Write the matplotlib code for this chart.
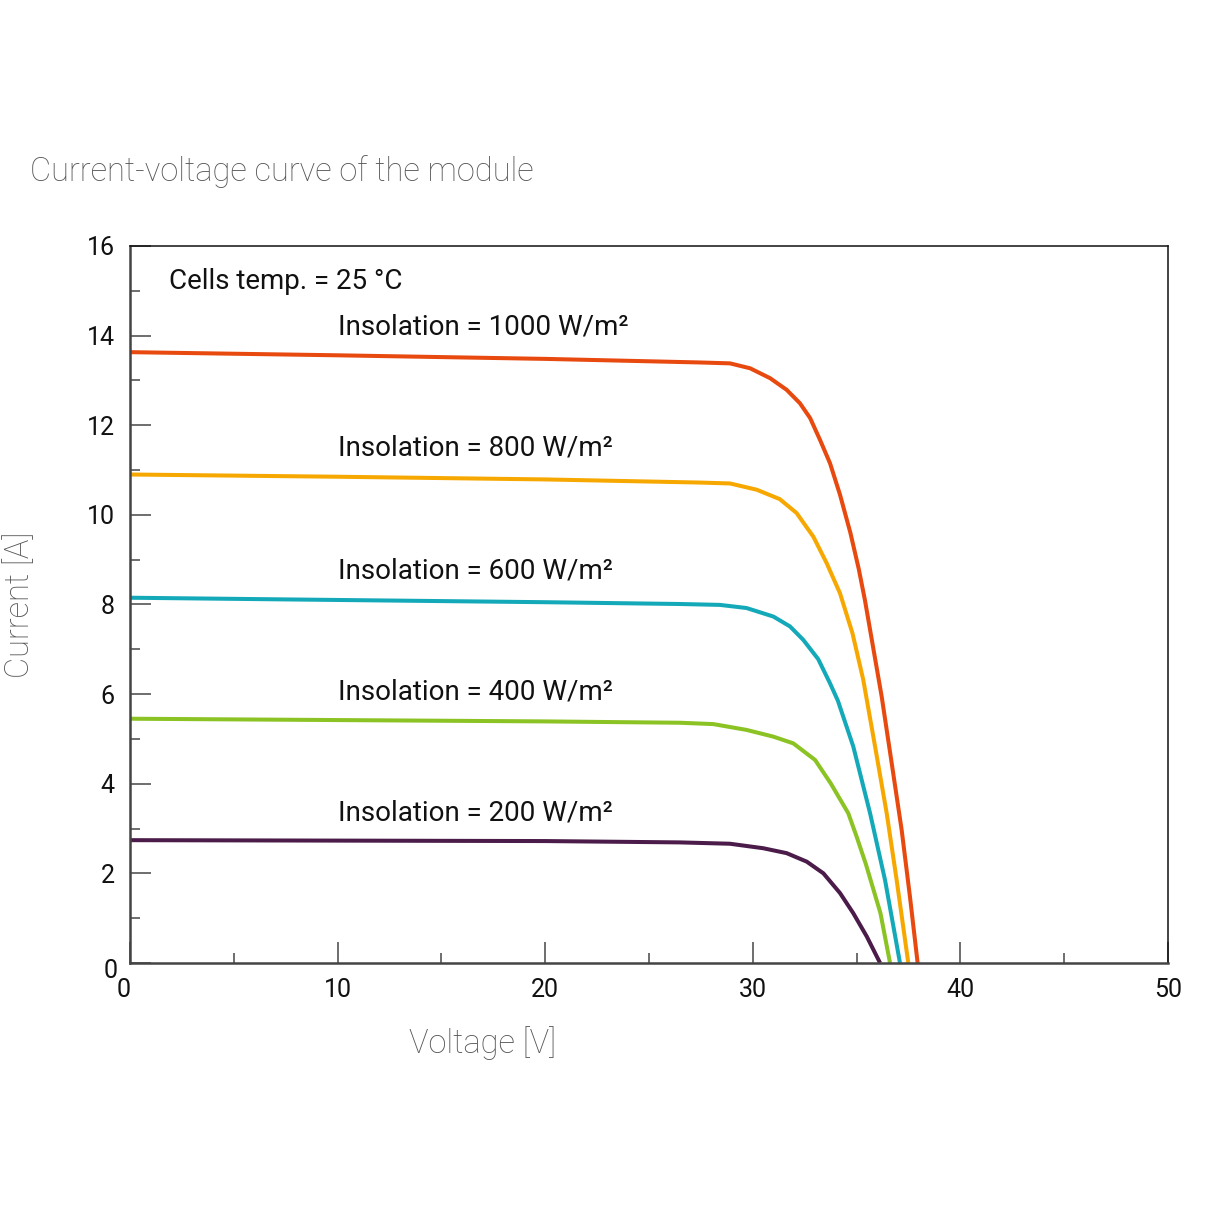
import matplotlib
matplotlib.use("Agg")
import matplotlib.pyplot as plt
from matplotlib.ticker import MultipleLocator, FuncFormatter

# I-V curves (voltage [V], current [A])
v_1000 = [0, 10, 20, 27.46, 28.9, 29.87, 30.83, 31.63, 32.27, 32.76, 33.24, 33.72, 34.2,
          34.7, 35.1, 35.4, 35.7, 36.21, 36.69, 37.17, 37.57, 37.94]
i_1000 = [13.63, 13.56, 13.48, 13.4, 13.38, 13.27, 13.05, 12.79, 12.49, 12.16, 11.67, 11.15, 10.45,
          9.6, 8.8, 8.1, 7.3, 5.94, 4.46, 2.97, 1.48, 0.0]

v_800 = [0, 10, 20, 27.46, 28.9, 30.19, 31.3, 32.11, 32.92, 33.56, 34.2, 34.8, 35.32, 35.89,
         36.45, 36.93, 37.49]
i_800 = [10.9, 10.85, 10.79, 10.72, 10.7, 10.56, 10.35, 10.04, 9.51, 8.92, 8.25, 7.36, 6.32, 4.83,
         3.34, 1.85, 0.0]

v_600 = [0, 10, 20, 26.49, 28.42, 29.7, 30.99, 31.79, 32.43, 33.15, 33.72, 34.1, 34.84, 35.65,
         36.37, 37.09]
i_600 = [8.15, 8.1, 8.05, 8.01, 7.99, 7.92, 7.73, 7.51, 7.21, 6.78, 6.24, 5.85, 4.83, 3.34,
         1.85, 0.0]

v_400 = [0, 10, 20, 26.49, 28.1, 29.7, 30.99, 31.95, 33.0, 33.75, 34.6, 35.0, 35.45, 36.15, 36.61]
i_400 = [5.45, 5.42, 5.39, 5.36, 5.33, 5.2, 5.05, 4.9, 4.53, 4.01, 3.34, 2.82, 2.2, 1.11, 0.0]

v_200 = [0, 10, 20, 26.49, 28.9, 30.5, 31.63, 32.6, 33.4, 34.2, 34.84, 35.49, 36.13]
i_200 = [2.74, 2.73, 2.72, 2.69, 2.66, 2.56, 2.45, 2.26, 2.0, 1.56, 1.11, 0.59, 0.0]

labels = ["Insolation = 1000 W/m²", "Insolation = 800 W/m²", "Insolation = 600 W/m²",
          "Insolation = 400 W/m²", "Insolation = 200 W/m²"]
label_y = [14.2, 11.5, 8.75, 6.05, 3.35]
colors = ["#E8490F", "#F7A800", "#14A9B9", "#8CC324", "#4B1C49"]

cond = ["Roboto", "DejaVu Sans"]
light = ["Roboto", "DejaVu Sans"]

fig = plt.figure(figsize=(12.14, 12.14), dpi=100)
ax = fig.add_axes([0.1071, 0.2068, 0.8550, 0.5906])

curves = [(v_1000, i_1000), (v_800, i_800), (v_600, i_600), (v_400, i_400), (v_200, i_200)]
for (v, i), c in zip(curves, colors):
    ax.plot(v, i, color=c, lw=2.9, solid_capstyle="butt", solid_joinstyle="round")

for txt, y in zip(labels, label_y):
    ax.text(10, y, txt, fontsize=20, family=cond, color="#111111", va="center", ha="left")
ax.text(1.9, 15.2, "Cells temp. = 25 °C", fontsize=20, family=cond, color="#111111",
        va="center", ha="left")

ax.set_xlim(0, 50)
ax.set_ylim(0, 16)
ax.xaxis.set_major_locator(MultipleLocator(10))
ax.xaxis.set_minor_locator(MultipleLocator(5))
ax.yaxis.set_major_locator(MultipleLocator(2))
ax.yaxis.set_minor_locator(MultipleLocator(1))
# zeros are drawn separately, they sit a bit off in the original
nozero = FuncFormatter(lambda val, pos: "" if val == 0 else "%d" % val)
ax.xaxis.set_major_formatter(nozero)
ax.yaxis.set_major_formatter(nozero)
ax.tick_params(which="major", direction="in", length=15, width=1.2, color="#555555",
               labelsize=18, labelcolor="#111111", pad=11, top=False, right=False)
ax.tick_params(which="minor", direction="in", length=7, width=1.2, color="#555555",
               top=False, right=False)
for lab in ax.get_xticklabels() + ax.get_yticklabels():
    lab.set_family(cond)

ax.annotate("0", (0, 0), xytext=(-4.5, -11), textcoords="offset points", fontsize=18,
            family=cond, color="#111111", ha="center", va="top", annotation_clip=False)
ax.annotate("0", (0, 0), xytext=(-9, -5.5), textcoords="offset points", fontsize=18,
            family=cond, color="#111111", ha="right", va="center", annotation_clip=False)

for side in ["left", "bottom"]:
    ax.spines[side].set_color("#444444")
    ax.spines[side].set_linewidth(1.8)
for side in ["top", "right"]:
    ax.spines[side].set_color("#111111")
    ax.spines[side].set_linewidth(1.1)

fig.text(30 / 1214, 1 - 172 / 1214, "Current-voltage curve of the module", fontsize=23.5,
         family=light, fontweight="light", color="#555555", va="center", ha="left")
fig.text(483 / 1214, 1 - 1043 / 1214, "Voltage [V]", fontsize=23.5, family=light,
         fontweight="light", color="#555555", va="center", ha="center")
fig.text(20 / 1214, 1 - 605 / 1214, "Current [A]", fontsize=23.5, family=light,
         fontweight="light", color="#555555", va="center", ha="center", rotation=90)

fig.savefig("out.png", dpi=100, facecolor="white")
